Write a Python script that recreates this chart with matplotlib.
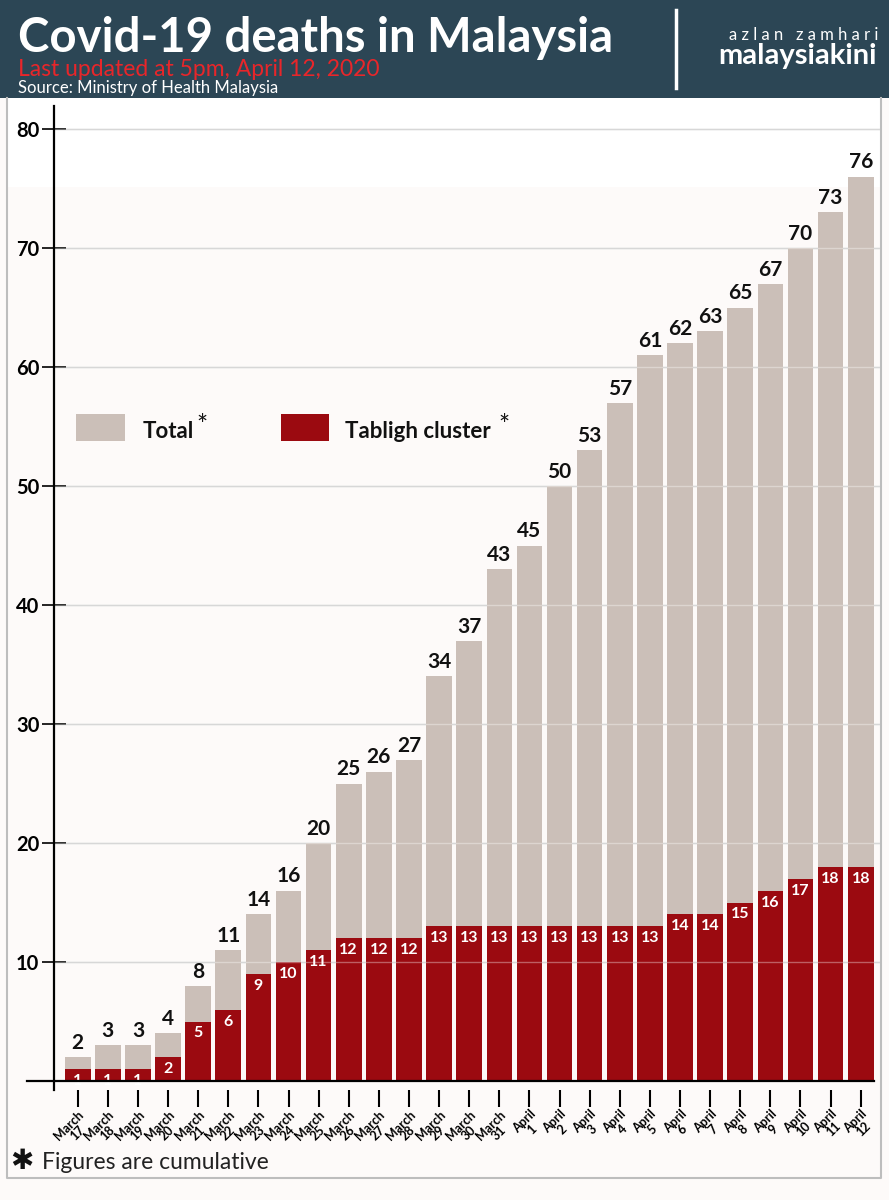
import matplotlib.pyplot as plt
from matplotlib.patches import Rectangle
from matplotlib.lines import Line2D
import numpy as np

plt.rcParams['font.family'] = ['Lato', 'DejaVu Sans']

# data
months = ['March'] * 15 + ['April'] * 12
days = list(range(17, 32)) + list(range(1, 13))
total = [2, 3, 3, 4, 8, 11, 14, 16, 20, 25, 26, 27, 34, 37, 43,
         45, 50, 53, 57, 61, 62, 63, 65, 67, 70, 73, 76]
tabligh = [1, 1, 1, 2, 5, 6, 9, 10, 11, 12, 12, 12, 13, 13, 13,
           13, 13, 13, 13, 13, 14, 14, 15, 16, 17, 18, 18]
xlabels = [f'{m}\n{d}' for m, d in zip(months, days)]

c_total = '#cbbfb8'
c_tab = '#9b0a10'
c_head = '#2c4655'
c_bg = '#fdfaf9'

W, H = 889, 1200
fig = plt.figure(figsize=(W / 100, H / 100), dpi=100)
fig.patch.set_facecolor(c_bg)

def px(x, y):
    return x / W, 1 - y / H

# header band
fig.patches.append(Rectangle((0, 1 - 98 / H), 1, 98 / H, transform=fig.transFigure,
                             facecolor=c_head, edgecolor='none', zorder=-2))
# lighter top area and outer frame
fig.patches.append(Rectangle(px(7, 187), (881 - 7) / W, (187 - 98) / H, transform=fig.transFigure,
                             facecolor='white', edgecolor='none', zorder=-2))
fig.lines.append(Line2D([7 / W, 7 / W, 881 / W, 881 / W], [1 - 98 / H, 1 - 1178 / H, 1 - 1178 / H, 1 - 98 / H],
                        transform=fig.transFigure, color='#bdbdbd', lw=1.5, zorder=-1))

fig.text(*px(18, 52), 'Covid-19 deaths in Malaysia', color='white', fontsize=34,
         fontweight='bold', va='baseline')
fig.text(*px(18, 76), 'Last updated at 5pm, April 12, 2020', color='#e8262a', fontsize=16.5,
         va='baseline')
fig.text(*px(18, 93), 'Source: Ministry of Health Malaysia', color='white', fontsize=12,
         va='baseline')
fig.lines.append(Line2D([676 / W, 676 / W], [1 - 10 / H, 1 - 88 / H], transform=fig.transFigure,
                        color='white', lw=2.5))
fig.text(*px(878, 40), 'a z l a n   z a m h a r i', color='white', fontsize=12,
         ha='right', va='baseline')
fig.text(*px(877, 64), 'malaysiakini', color='white', fontsize=21, fontweight='bold',
         ha='right', va='baseline')

# plot area
ymin, ymax = -0.75, 81.9
ax = fig.add_axes([54 / W, (H - 1090) / H, (880 - 54) / W, (1090 - 106.4) / H])
ax.set_zorder(1)
ax.set_facecolor('none')
x = np.arange(len(total))
ax.set_xlim(-0.787, 26.64)
ax.set_ylim(ymin, ymax)

ax.bar(x, total, width=0.85, color=c_total, zorder=2)
ax.bar(x, tabligh, width=0.85, color=c_tab, zorder=3)

for yv in range(10, 90, 10):
    ax.axhline(yv, color='#c3c3c3', lw=1, zorder=1)
    ax.axhline(yv, color='white', lw=1, alpha=0.35, zorder=4)

for xi, t, tb in zip(x, total, tabligh):
    ax.annotate(str(t), (xi, t), xytext=(0, 3), textcoords='offset points',
                ha='center', va='bottom', fontsize=15, fontweight='bold', color='#111111', zorder=5)
    ax.annotate(str(tb), (xi, tb), xytext=(0, -3.5), textcoords='offset points',
                ha='center', va='top', fontsize=11.5, fontweight='bold', color='white', zorder=5)

for s in ['top', 'right', 'bottom']:
    ax.spines[s].set_visible(False)
ax.spines['left'].set_linewidth(1.6)
ax.spines['left'].set_zorder(6)
ax.add_line(Line2D([-1.69, 26.43], [0, 0], color='black', lw=1.6, clip_on=False, zorder=6))

ax.set_yticks(range(10, 90, 10))
ax.tick_params(axis='y', direction='inout', length=17, width=1.2, labelsize=14.5, pad=2)
for lab in ax.get_yticklabels():
    lab.set_fontweight('bold')

ax.set_xticks(x)
ax.set_xticklabels(xlabels, rotation=45, ha='right', va='top', rotation_mode='anchor',
                   fontsize=9, fontweight='bold', linespacing=0.9, multialignment='center')
ax.tick_params(axis='x', direction='out', length=12, width=1.5, pad=1)

# legend
fig.patches.append(Rectangle(px(76, 441), 49 / W, 27 / H, transform=fig.transFigure,
                             facecolor=c_total, edgecolor='none', zorder=3))
fig.patches.append(Rectangle(px(281, 441), 48 / W, 27 / H, transform=fig.transFigure,
                             facecolor=c_tab, edgecolor='none', zorder=3))
fig.text(*px(143, 438), 'Total', fontsize=16, fontweight='bold', color='#111111', va='baseline', zorder=3)
fig.text(*px(196, 434), '*', fontsize=19, color='#111111', va='baseline', zorder=3)
fig.text(*px(345, 438), 'Tabligh cluster', fontsize=16, fontweight='bold', color='#111111', va='baseline', zorder=3)
fig.text(*px(498, 434), '*', fontsize=19, color='#111111', va='baseline', zorder=3)

# footnote
fig.text(*px(10, 1161), '\u2731', fontsize=20, color='#111111', va='center',
         family=['DejaVu Sans'])
fig.text(*px(42, 1169), 'Figures are cumulative', fontsize=16.5, color='#222222', va='baseline')

fig.savefig('out.png', dpi=100, facecolor=fig.get_facecolor())
